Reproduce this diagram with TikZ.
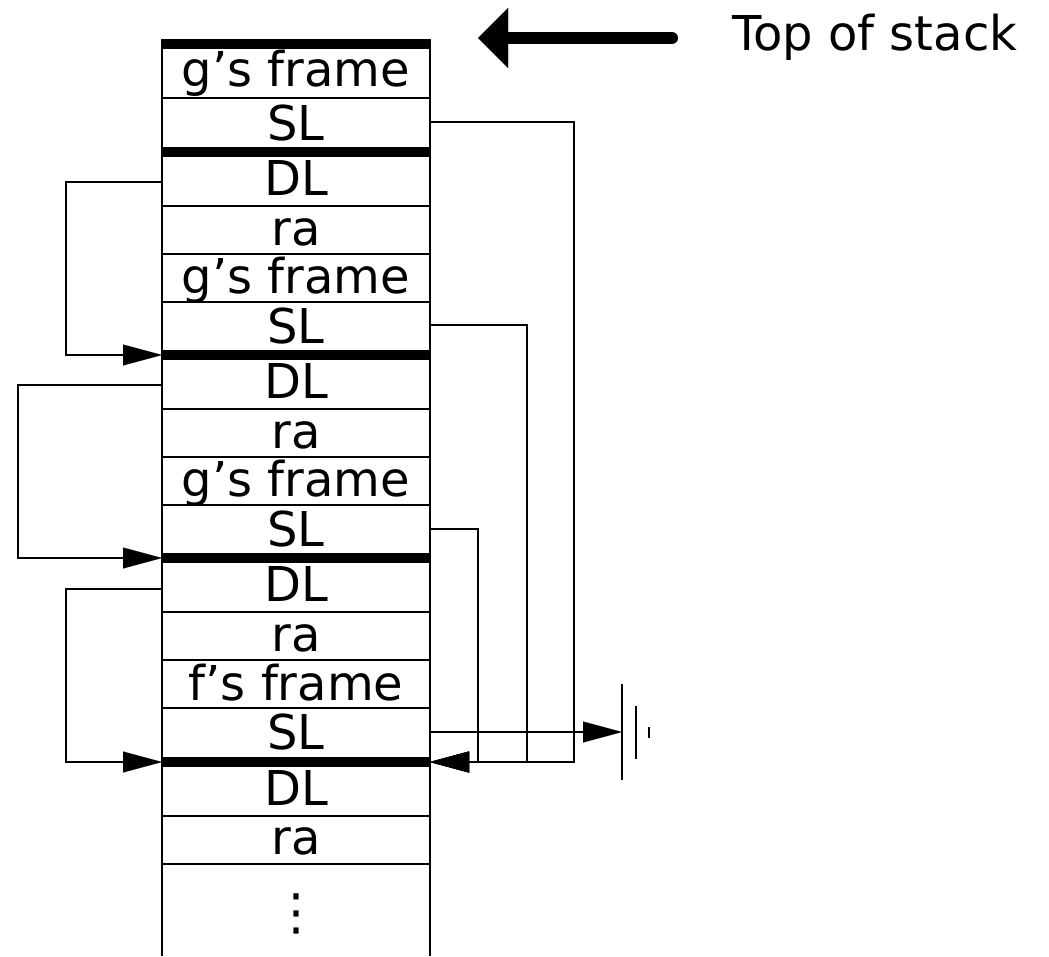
\documentclass[tikz,border=0pt]{standalone}
\usepackage{fontspec}
\setmainfont{DejaVu Sans}
\usetikzlibrary{arrows.meta}
\begin{document}
\begin{tikzpicture}[x=1pt,y=-1pt,
  thinline/.style={line width=1.3pt},
  bar/.style={line width=10pt},
  lbl/.style={font=\fontsize{48}{56}\selectfont, anchor=base, inner sep=0pt},
  link/.style={line width=1.3pt, -{Triangle[length=39pt,width=21pt,line width=0.01pt]}},
]
\useasboundingbox (0,0) rectangle (1049,956);
% column sides
\coordinate (colTL) at (162,39);
\coordinate (colBL) at (162,956);
\coordinate (colTR) at (430,39);
\coordinate (colBR) at (430,956);
\draw[thinline] (colTL) -- (colBL);
\draw[thinline] (colTR) -- (colBR);
% thin row lines
\foreach \y in {98,206,254,302,409,457,505,612,660,708,816,864}
  \draw[thinline] (162,\y) -- (430,\y);
% frame bars
\foreach \y in {44,152,355,558,762}
  \draw[bar] (162,\y) -- (430,\y);
% labels
\node[lbl] (t1) at (296,86) {g's frame};
\node[lbl] (t2) at (296,140) {SL};
\node[lbl] (t3) at (296,195) {DL};
\node[lbl] (t4) at (296,245) {ra};
\node[lbl] (t5) at (296,293) {g's frame};
\node[lbl] (t6) at (296,343) {SL};
\node[lbl] (t7) at (296,398) {DL};
\node[lbl] (t8) at (296,448) {ra};
\node[lbl] (t9) at (296,496) {g's frame};
\node[lbl] (t10) at (296,546) {SL};
\node[lbl] (t11) at (296,601) {DL};
\node[lbl] (t12) at (296,651) {ra};
\node[lbl] (t13) at (296,700) {f's frame};
\node[lbl] (t14) at (296,749) {SL};
\node[lbl] (t15) at (296,805) {DL};
\node[lbl] (t16) at (296,854) {ra};
\node[font=\fontsize{50}{56}\selectfont, inner sep=0pt] (dots) at (296,914) {⋮};
% top of stack
\node[lbl, anchor=base west] (tos) at (732,50) {Top of stack};
\coordinate (tosTail) at (672,38);
\coordinate (tosHead) at (478,38);
\draw[line width=12pt, line cap=round, -{Triangle[length=30pt,width=60pt,line width=0.01pt]}] (tosTail) -- (tosHead);
% static links
\coordinate (sl1) at (430,122);
\coordinate (sl2) at (430,325);
\coordinate (sl3) at (430,529);
\coordinate (sl4) at (430,732);
\coordinate (fbR) at (430,762);
\coordinate (r1) at (574,762);
\coordinate (r2) at (527,762);
\coordinate (r3) at (478,762);
\draw[link] (sl1) -| (r1) -- (fbR);
\draw[link] (sl2) -| (r2) -- (fbR);
\draw[link] (sl3) -| (r3) -- (fbR);
% ground
\coordinate (gnd) at (622,732);
\draw[link] (sl4) -- (gnd);
\draw[thinline] (622,684) -- (622,780);
\draw[thinline] (636,706) -- (636,759);
\draw[thinline] (649,727) -- (649,738);
% dynamic links
\coordinate (dl1) at (162,182);
\coordinate (dl2) at (162,385);
\coordinate (dl3) at (162,589);
\coordinate (b2L) at (162,355);
\coordinate (b3L) at (162,558);
\coordinate (b4L) at (162,762);
\coordinate (l1) at (66,355);
\coordinate (l2) at (18,558);
\coordinate (l3) at (66,762);
\draw[link] (dl1) -| (l1) -- (b2L);
\draw[link] (dl2) -| (l2) -- (b3L);
\draw[link] (dl3) -| (l3) -- (b4L);
\end{tikzpicture}
\end{document}
